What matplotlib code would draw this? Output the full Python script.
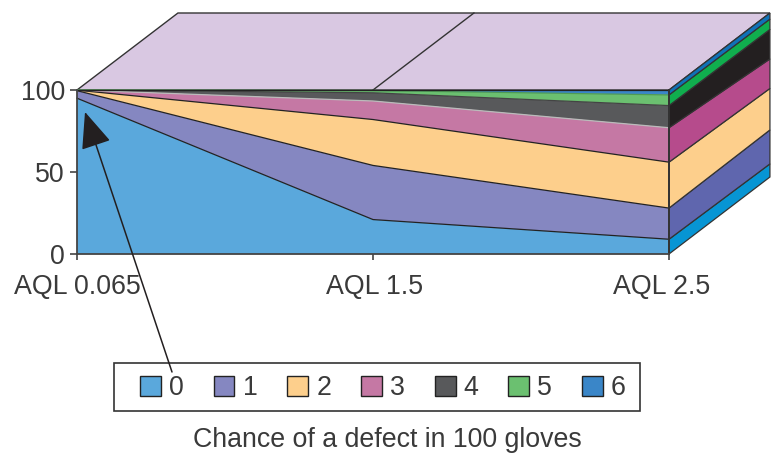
import numpy as np
import matplotlib
matplotlib.use("Agg")
import matplotlib.pyplot as plt
from matplotlib.patches import Polygon, Patch, Rectangle
from matplotlib.transforms import ScaledTranslation

plt.rcParams['font.family'] = ['Liberation Sans', 'DejaVu Sans']

categories = ['AQL 0.065', 'AQL 1.5', 'AQL 2.5']
series_names = ['0', '1', '2', '3', '4', '5', '6']
s0 = [95.0, 21.0, 9.0]
s1 = [4.6, 33.0, 19.0]
s2 = [0.3, 28.0, 28.0]
s3 = [0.1, 11.3, 21.0]
s4 = [0.0, 5.0, 13.5]
s5 = [0.0, 1.4, 6.5]
s6 = [0.0, 0.3, 3.0]
series = [s0, s1, s2, s3, s4, s5, s6]
side_back_cum = [8.0, 28.7, 54.0, 72.0, 90.0, 96.3, 100.0]
front_colors = ['#5aa8dc', '#8587c1', '#fdcf8c', '#c578a4', '#58595b', '#6bc070', '#3a86c8']
side_colors = ['#0795d4', '#5f66ae', '#fdcf8c', '#b64b8c', '#231f20', '#10ae4e', '#0f72b8']
edge_colors = ['#222222', '#222222', '#222222', '#bbbbbb', '#444444', '#4f9a55', '#222222']
y_ticks = [0, 50, 100]
wall_color = '#d9c8e2'
line_color = '#333333'
text_color = '#3a3a3a'
FS = 19.3
DX, DY = 0.341, 46.95   # depth of the 3D box in data units

W, H = 773, 453
fig = plt.figure(figsize=(W / 100, H / 100), dpi=100)
ax = fig.add_axes([77 / W, (H - 254) / H, 592 / W, 164 / H])
ax.set_zorder(7)
x = np.arange(len(categories))
ax.set_xlim(0, 2)
ax.set_ylim(0, 100)

# back wall
ax.add_patch(Polygon([(0, 100), (2, 100), (2 + DX, 100 + DY), (DX, 100 + DY)],
                     closed=True, fc=wall_color, ec=line_color, lw=1.0, clip_on=False, zorder=1))
ax.plot([1, 1 + DX], [100, 100 + DY], color=line_color, lw=1.0, clip_on=False, zorder=2)

# front areas
polys = ax.stackplot(x, *series, colors=front_colors, zorder=3)
cum = np.cumsum(np.array(series), axis=0)
for c, e in zip(cum, edge_colors):
    ax.plot(x, c, color=e, lw=0.9, zorder=4, clip_on=False)

# side face
prev_f, prev_b = 0.0, 0.0
for c, b, col in zip(cum[:, 2], side_back_cum, side_colors):
    ax.add_patch(Polygon([(2, prev_f), (2 + DX, prev_b + DY), (2 + DX, b + DY), (2, c)],
                         closed=True, fc=col, ec=line_color, lw=0.9, clip_on=False, zorder=3))
    prev_f, prev_b = c, b
ax.plot([2, 2], [0, 100], color=line_color, lw=1.4, zorder=5, clip_on=False)

for s in ['top', 'right']:
    ax.spines[s].set_visible(False)
for s in ['left', 'bottom']:
    ax.spines[s].set_color('#444444')
    ax.spines[s].set_linewidth(1.3)
    ax.spines[s].set_zorder(6)
ax.set_xticks(x)
ax.set_xticklabels(categories)
ax.set_yticks(y_ticks)
ax.tick_params(axis='x', length=4.3, width=1.2, color='#444444', labelsize=FS, labelcolor=text_color, pad=10.2)
ax.tick_params(axis='y', length=5, width=1.2, color='#444444', labelsize=FS, labelcolor=text_color, pad=3.6)
# the last category label sits a little left of its tick in the reference
last = ax.get_xticklabels()[-1]
last.set_transform(last.get_transform() + ScaledTranslation(-7 / 100, 0, fig.dpi_scale_trans))
mid = ax.get_xticklabels()[1]
mid.set_transform(mid.get_transform() + ScaledTranslation(2 / 100, 0, fig.dpi_scale_trans))

# legend box and legend
fig.add_artist(Rectangle((114 / W, (H - 411) / H), 526 / W, 48 / H, transform=fig.transFigure,
                         fc='white', ec='#333333', lw=1.2, zorder=6))
handles = [Patch(fc=c, ec='#222222', lw=1.0) for c in front_colors]
leg = fig.legend(handles, series_names, ncol=7, loc='center left',
                 bbox_to_anchor=(140 / W, (H - 388) / H), bbox_transform=fig.transFigure,
                 fontsize=FS, labelcolor=text_color, frameon=False,
                 handlelength=0.78, handleheight=0.78, handletextpad=0.3,
                 columnspacing=1.115, borderpad=0, borderaxespad=0)
leg.set_zorder(8)

# arrow from the legend box to the series 0 area
ax.annotate('', xy=(0.027, 86.6), xycoords='data',
            xytext=(172, H - 372), textcoords='figure pixels',
            arrowprops=dict(arrowstyle='-|>,head_length=1.15,head_width=0.48', color='#231f20', lw=1.1,
                            shrinkA=0, shrinkB=0, mutation_scale=20), zorder=8, annotation_clip=False)

fig.text(387 / W, (H - 440) / H, 'Chance of a defect in 100 gloves', ha='center', va='center',
         fontsize=FS, color=text_color)

fig.savefig('out.png', dpi=100)
